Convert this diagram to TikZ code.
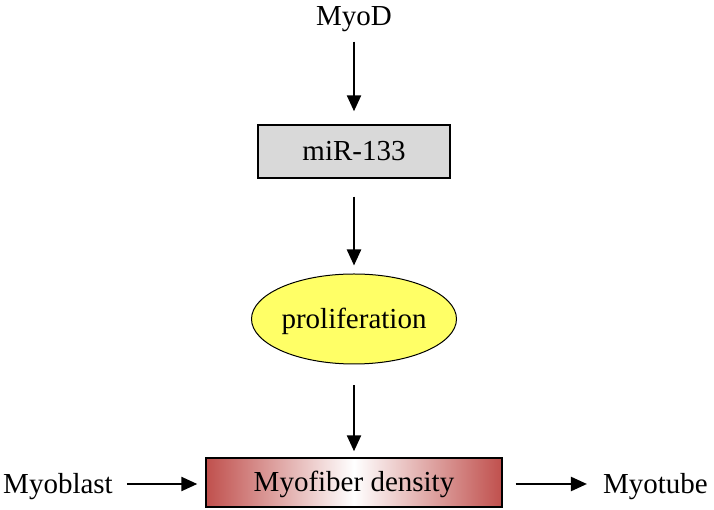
\documentclass[tikz,border=0pt]{standalone}
\usepackage{fontspec}
\setmainfont{Liberation Serif}
\usepackage{xcolor}
\usepackage{tikz}
\usetikzlibrary{shapes.geometric,arrows.meta,positioning}

\definecolor{boxgray}{RGB}{217,217,217}
\definecolor{cellyellow}{RGB}{255,255,102}
\definecolor{fiberred}{RGB}{192,80,77}

\tikzset{
    txt/.style={font=\fontsize{29}{34}\selectfont, inner sep=0pt,
        text height=19pt, text depth=0pt},
    flow/.style={-{Triangle[length=16pt,width=14pt]}, line width=2.3pt},
}

\begin{document}
\begin{tikzpicture}[x=1pt,y=1pt]
                \useasboundingbox[fill=white] (0,0) rectangle (714,510);

                \node[txt] (myod) at (354,494) {MyoD};

                \node[
                    txt,
                    draw,
                    line width=1.4pt,
                    fill=boxgray,
                    minimum width=192pt,
                    minimum height=53pt
                    ] (mir) at (354,358.5) {miR-133};

                \node[
                    txt,
                    ellipse,
                    draw,
                    line width=1pt,
                    fill=cellyellow,
                    minimum width=186pt,
                    minimum height=90pt
                    ] (prolif) at (354,191) {proliferation};

                \node[
                    txt,
                    draw,
                    line width=1.4pt,
                    left color=fiberred,
                    right color=fiberred,
                    middle color=white,
                    minimum width=296pt,
                    minimum height=49pt
                    ] (density) at (354,27.5) {Myofiber density};

                \node[txt] (myoblast) at (58,26) {Myoblast};
                \node[txt] (myotube) at (655.5,26) {Myotube};

                % arrows
                \draw[flow, shorten <=16pt, shorten >=13pt] (myod) -- (mir);
                \draw[flow, shorten <=18pt, shorten >=8pt] (mir) -- (prolif);
                \draw[flow, shorten <=21pt, shorten >=6pt] (prolif) -- (density);
                \draw[flow, shorten <=14pt, shorten >=8pt] (myoblast) -- (myoblast -| density.west);
                \draw[flow, shorten <=13pt, shorten >=16pt] (myotube -| density.east) -- (myotube);

\end{tikzpicture}
\end{document}
